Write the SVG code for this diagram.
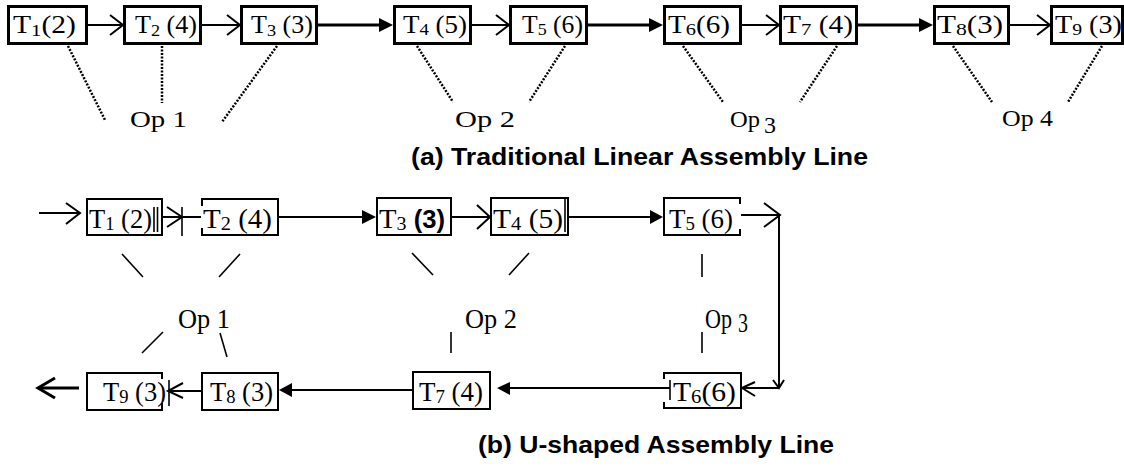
<svg xmlns="http://www.w3.org/2000/svg" width="1124" height="467" viewBox="0 0 1124 467">
<style>
.bx{fill:none;stroke:#000;stroke-width:3}
.bb{fill:none;stroke:#000;stroke-width:2}
.lb{font-family:"Liberation Serif","Times New Roman",serif;font-size:25px;fill:#000}
.lb2{font-family:"Liberation Serif","Times New Roman",serif;font-size:28px;fill:#000}
.sub{font-size:70%}
.op{font-family:"Liberation Serif","Times New Roman",serif;font-size:24px;fill:#000}
.op2{font-family:"Liberation Serif","Times New Roman",serif;font-size:28px;fill:#000}
.ttl{font-family:"Liberation Sans",Arial,sans-serif;font-weight:bold;font-size:24px;fill:#000}
.thin{fill:none;stroke:#000;stroke-width:2}
.thick{fill:none;stroke:#000;stroke-width:3}
.fh{fill:#000;stroke:none}
.dot{fill:none;stroke:#000;stroke-width:2.5;stroke-dasharray:2 1.5}
.sl{fill:none;stroke:#000;stroke-width:1.6}
</style>
<rect width="1124" height="467" fill="#fff"/>

<!-- (a) linear line nodes -->
<g id="a-T1"><rect class="bx" x="8.5" y="6.5" width="78" height="37"/><text class="lb" x="13" y="33" textLength="63" lengthAdjust="spacingAndGlyphs">T<tspan class="sub" dy="3">1</tspan><tspan dy="-3">(2)</tspan></text></g>
<g id="a-T2"><rect class="bx" x="124.5" y="6.5" width="76" height="37"/><text class="lb" x="135" y="33" textLength="62" lengthAdjust="spacingAndGlyphs">T<tspan class="sub" dy="3">2</tspan><tspan dy="-3"> (4)</tspan></text></g>
<g id="a-T3"><rect class="bx" x="241.5" y="6.5" width="75" height="37"/><text class="lb" x="251" y="33" textLength="62" lengthAdjust="spacingAndGlyphs">T<tspan class="sub" dy="3">3</tspan><tspan dy="-3"> (3)</tspan></text></g>
<g id="a-T4"><rect class="bx" x="394.5" y="6.5" width="76" height="37"/><text class="lb" x="403" y="33" textLength="64" lengthAdjust="spacingAndGlyphs">T<tspan class="sub" dy="2">4</tspan><tspan dy="-2"> (5)</tspan></text></g>
<g id="a-T5"><rect class="bx" x="510.5" y="6.5" width="76" height="37"/><text class="lb" x="522" y="33" textLength="61" lengthAdjust="spacingAndGlyphs">T<tspan class="sub" dy="2">5</tspan><tspan dy="-2"> (6)</tspan></text></g>
<g id="a-T6"><rect class="bx" x="664.5" y="6.5" width="76" height="37"/><text class="lb" x="668" y="33" textLength="62" lengthAdjust="spacingAndGlyphs">T<tspan class="sub" dy="2">6</tspan><tspan dy="-2">(6)</tspan></text></g>
<g id="a-T7"><rect class="bx" x="780.5" y="6.5" width="76" height="37"/><text class="lb" x="783" y="33" textLength="70" lengthAdjust="spacingAndGlyphs">T<tspan class="sub" dy="2">7</tspan><tspan dy="-2"> (4)</tspan></text></g>
<g id="a-T8"><rect class="bx" x="934.5" y="6.5" width="74" height="37"/><text class="lb" x="937" y="33" textLength="66" lengthAdjust="spacingAndGlyphs">T<tspan class="sub" dy="2">8</tspan><tspan dy="-2">(3)</tspan></text></g>
<g id="a-T9"><rect class="bx" x="1051.5" y="6.5" width="71" height="37"/><text class="lb" x="1055" y="33" textLength="67" lengthAdjust="spacingAndGlyphs">T<tspan class="sub" dy="2">9</tspan><tspan dy="-2"> (3)</tspan></text></g>

<g id="a-ops">
<text class="op" x="130" y="127" textLength="57" lengthAdjust="spacingAndGlyphs">Op 1</text>
<text class="op" x="455" y="127" textLength="60" lengthAdjust="spacingAndGlyphs">Op 2</text>
<text class="op" x="730" y="127" textLength="30" lengthAdjust="spacingAndGlyphs">Op</text>
<text class="op" x="764" y="133" font-size="21" textLength="12" lengthAdjust="spacingAndGlyphs">3</text>
<text class="op" x="1002" y="126" textLength="51" lengthAdjust="spacingAndGlyphs">Op 4</text>
</g>

<g id="a-connectors">
<line class="thin" x1="88" y1="25" x2="122" y2="25"/><polyline class="thin" points="110,15 123,25 110,35"/>
<line class="thin" x1="202" y1="25" x2="239" y2="25"/><polyline class="thin" points="227,15 240,25 227,35"/>
<line class="thick" x1="318" y1="25" x2="381" y2="25"/><polygon class="fh" points="393,25 379,18 379,32"/>
<line class="thin" x1="472" y1="25" x2="508" y2="25"/><polyline class="thin" points="496,15 509,25 496,35"/>
<line class="thick" x1="588" y1="25" x2="651" y2="25"/><polygon class="fh" points="663,25 649,18 649,32"/>
<line class="thin" x1="742" y1="25" x2="778" y2="25"/><polyline class="thin" points="766,15 779,25 766,35"/>
<line class="thick" x1="858" y1="25" x2="921" y2="25"/><polygon class="fh" points="933,25 919,18 919,32"/>
<line class="thin" x1="1010" y1="25" x2="1049" y2="25"/><polyline class="thin" points="1037,15 1050,25 1037,35"/>
<line class="dot" x1="68" y1="46" x2="105" y2="120"/>
<line class="dot" x1="162" y1="46" x2="162" y2="103"/>
<line class="dot" x1="277" y1="46" x2="222" y2="122"/>
<line class="dot" x1="417" y1="46" x2="453" y2="102"/>
<line class="dot" x1="565" y1="46" x2="529" y2="102"/>
<line class="dot" x1="683" y1="46" x2="723" y2="102"/>
<line class="dot" x1="837" y1="46" x2="800" y2="102"/>
<line class="dot" x1="953" y1="46" x2="992" y2="102"/>
<line class="dot" x1="1102" y1="46" x2="1068" y2="102"/>
</g>

<text id="title-a" class="ttl" x="411" y="165" textLength="457" lengthAdjust="spacingAndGlyphs">(a) Traditional Linear Assembly Line</text>

<!-- (b) U-shaped line nodes -->
<g id="b-T1"><rect class="bb" x="87" y="199" width="75" height="36"/><line class="sl" x1="154" y1="207" x2="154" y2="232"/><line class="sl" x1="157.5" y1="207" x2="157.5" y2="232"/><text class="lb2" x="89" y="228" textLength="63" lengthAdjust="spacingAndGlyphs">T<tspan class="sub" dy="2">1</tspan><tspan dy="-2"> (2)</tspan></text></g>
<g id="b-T2"><path class="bb" d="M202,206 V199 H278 V235 H202 V228"/><text class="lb2" x="203" y="228" textLength="69" lengthAdjust="spacingAndGlyphs">T<tspan class="sub" dy="2">2</tspan><tspan dy="-2">  (4)</tspan></text></g>
<g id="b-T3"><rect class="bb" x="377" y="198" width="74" height="37"/><text class="lb2" x="379" y="228" textLength="66" lengthAdjust="spacingAndGlyphs">T<tspan class="sub" dy="2">3</tspan><tspan dy="-2"> </tspan><tspan font-family="Liberation Sans, Arial, sans-serif" font-weight="bold" font-size="25">(3)</tspan></text></g>
<g id="b-T4"><rect class="bb" x="491" y="198" width="77" height="37"/><line class="sl" x1="565" y1="198" x2="565" y2="232"/><text class="lb2" x="493" y="228" textLength="70" lengthAdjust="spacingAndGlyphs">T<tspan class="sub" dy="2">4</tspan><tspan dy="-2"> (5)</tspan></text></g>
<g id="b-T5"><path class="bb" d="M740,204 V198 H664 V235 H740 V229"/><text class="lb2" x="669" y="228" textLength="64" lengthAdjust="spacingAndGlyphs">T<tspan class="sub" dy="2">5</tspan><tspan dy="-2"> (6)</tspan></text></g>
<g id="b-T6"><path class="bb" d="M664,379 V373 H741 V408 H664 V402"/><text class="lb2" x="673" y="401" textLength="63" lengthAdjust="spacingAndGlyphs">T<tspan class="sub" dy="2">6</tspan><tspan dy="-2">(6)</tspan></text></g>
<g id="b-T7"><rect class="bb" x="413" y="372" width="77" height="37"/><text class="lb2" x="419" y="401" textLength="64" lengthAdjust="spacingAndGlyphs">T<tspan class="sub" dy="2">7</tspan><tspan dy="-2">  (4)</tspan></text></g>
<g id="b-T8"><rect class="bb" x="202" y="373" width="76" height="37"/><text class="lb2" x="210" y="401" textLength="63" lengthAdjust="spacingAndGlyphs">T<tspan class="sub" dy="2">8</tspan><tspan dy="-2"> (3)</tspan></text></g>
<g id="b-T9"><path class="bb" d="M162,379 V373 H87 V410 H162 V403"/><text class="lb2" x="103" y="401" textLength="63" lengthAdjust="spacingAndGlyphs">T<tspan class="sub" dy="2">9</tspan><tspan dy="-2"> (3)</tspan></text></g>

<g id="b-ops">
<text class="op2" x="178" y="328" textLength="52" lengthAdjust="spacingAndGlyphs">Op 1</text>
<text class="op2" x="465" y="328" textLength="52" lengthAdjust="spacingAndGlyphs">Op 2</text>
<text class="op2" x="705" y="328" textLength="27" lengthAdjust="spacingAndGlyphs">Op</text>
<text class="op2" x="738" y="332" font-size="22" textLength="10" lengthAdjust="spacingAndGlyphs">3</text>
</g>

<g id="b-connectors">
<line class="thin" x1="39" y1="213" x2="79" y2="213"/><polyline class="thin" points="66,203 80,213 66,224"/>
<line class="thin" x1="163" y1="217" x2="181" y2="217"/><polyline class="thin" points="167,207 182,217 167,227"/>
<line class="sl" x1="182" y1="207" x2="182" y2="236"/><line class="thin" x1="183" y1="217" x2="201" y2="217"/>
<line class="thin" x1="279" y1="217" x2="364" y2="217"/><polygon class="fh" points="376,217 362,210 362,224"/>
<line class="thin" x1="452" y1="217" x2="489" y2="217"/><polyline class="thin" points="477,205 490,217 477,229"/>
<line class="thin" x1="569" y1="217" x2="651" y2="217"/><polygon class="fh" points="663,217 650,210 650,224"/>
<line class="thin" x1="741" y1="215" x2="779" y2="215"/><polyline class="thin" points="764,203 780,215 764,227"/>
<line class="thin" x1="779" y1="215" x2="779" y2="388"/><polyline class="thin" points="773,380 779,388 784,380"/>
<line class="thin" x1="779" y1="388" x2="743" y2="388"/><polyline class="thin" points="755,382 742,388 755,396"/>
<line class="sl" x1="670" y1="380" x2="670" y2="400"/>
<line class="thin" x1="670" y1="388" x2="509" y2="388"/><polygon class="fh" points="497,388 510,382 510,395"/>
<line class="thin" x1="412" y1="390" x2="291" y2="390"/><polygon class="fh" points="279,390 292,383 292,397"/>
<line class="thin" x1="201" y1="391" x2="169" y2="391"/><polyline class="thin" points="183,383 168,391 183,398"/>
<line class="sl" x1="169" y1="380" x2="169" y2="406"/>
<line class="thick" x1="79" y1="388" x2="40" y2="388"/><polyline class="thick" points="55,378 38,388 55,398"/>
<line class="sl" x1="122" y1="254" x2="143" y2="277"/>
<line class="sl" x1="240" y1="254" x2="219" y2="277"/>
<line class="sl" x1="412" y1="253" x2="433" y2="275"/>
<line class="sl" x1="529" y1="253" x2="509" y2="275"/>
<line class="sl" x1="702" y1="254" x2="702" y2="277"/>
<line class="sl" x1="163" y1="332" x2="142" y2="353"/>
<line class="sl" x1="220" y1="333" x2="227" y2="357"/>
<line class="sl" x1="451" y1="332" x2="451" y2="353"/>
<line class="sl" x1="702" y1="332" x2="702" y2="353"/>
</g>

<text id="title-b" class="ttl" x="478" y="453" textLength="356" lengthAdjust="spacingAndGlyphs">(b) U-shaped Assembly Line</text>
</svg>
